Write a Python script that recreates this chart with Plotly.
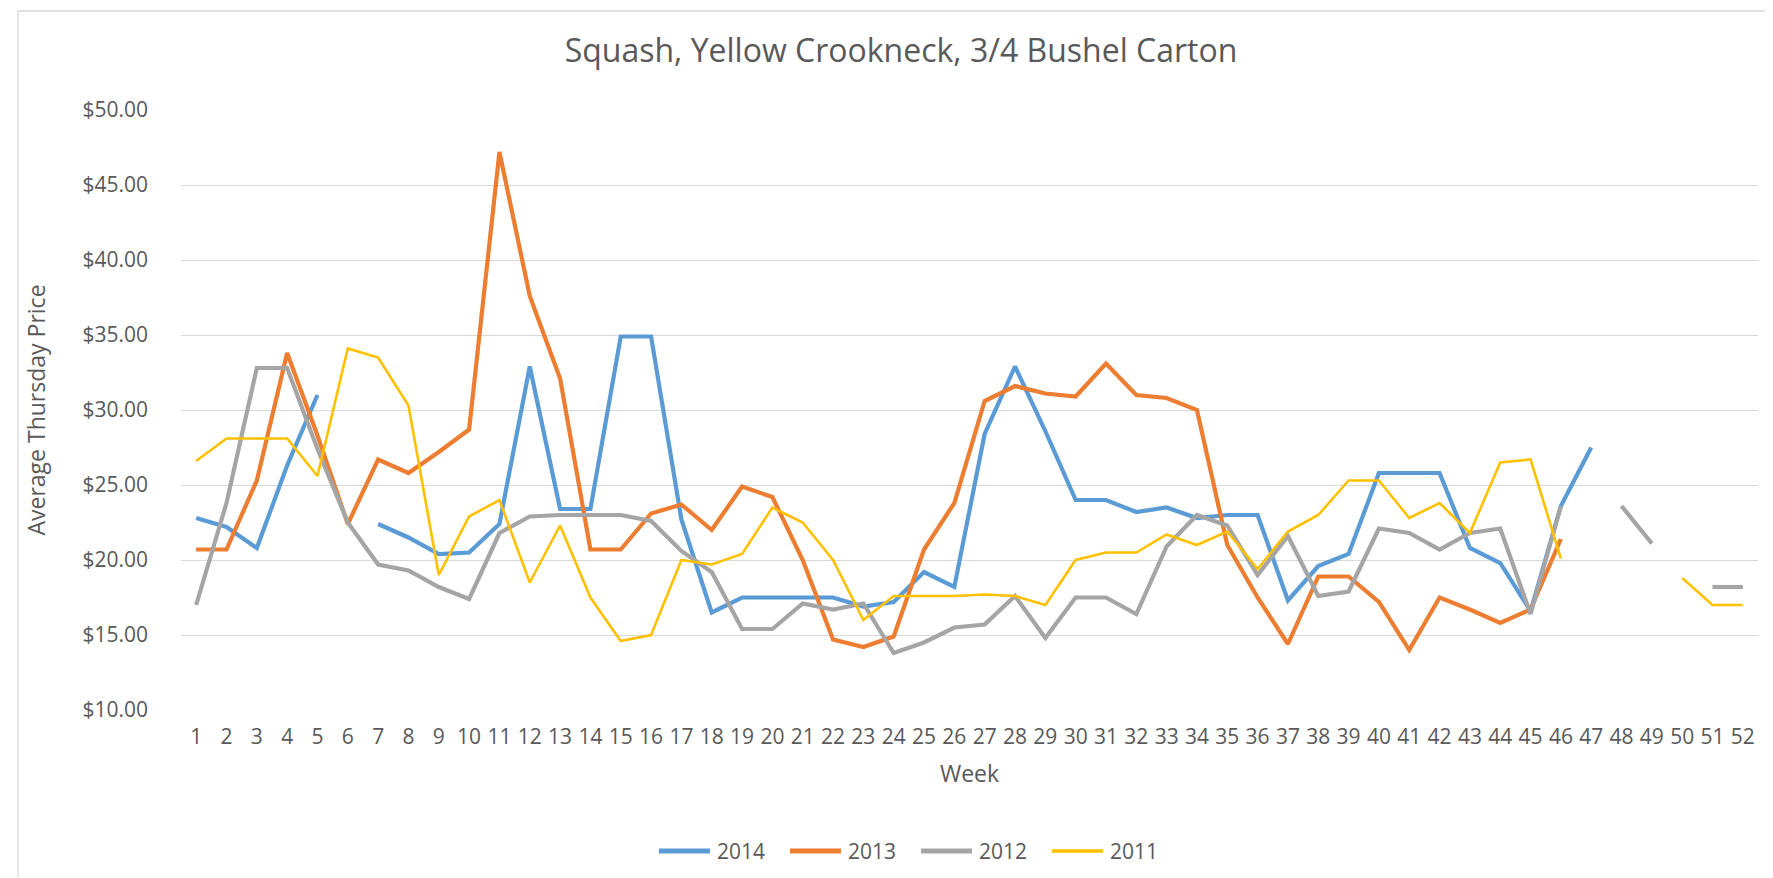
import plotly.graph_objects as go

weeks = list(range(1, 53))
N = None

y2014 = [22.8, 22.2, 20.8, 26.3, 31.0, N, 22.4, 21.5, 20.4, 20.5,
         22.4, 32.9, 23.4, 23.4, 34.9, 34.9, 22.7, 16.5, 17.5, 17.5,
         17.5, 17.5, 16.9, 17.2, 19.2, 18.2, 28.4, 32.9, 28.6, 24.0,
         24.0, 23.2, 23.5, 22.8, 23.0, 23.0, 17.3, 19.6, 20.4, 25.8,
         25.8, 25.8, 20.8, 19.8, 16.6, 23.6, 27.5, N, N, N, N, N]

y2013 = [20.7, 20.7, 25.3, 33.8, 28.3, 22.4, 26.7, 25.8, 27.2, 28.7,
         47.2, 37.6, 32.1, 20.7, 20.7, 23.1, 23.7, 22.0, 24.9, 24.2,
         20.0, 14.7, 14.2, 14.9, 20.7, 23.8, 30.6, 31.6, 31.1, 30.9,
         33.1, 31.0, 30.8, 30.0, 21.0, 17.5, 14.4, 18.9, 18.9, 17.2,
         14.0, 17.5, 16.7, 15.8, 16.7, 21.4, N, N, N, N, N, N]

y2012 = [17.0, 23.8, 32.8, 32.8, 27.4, 22.5, 19.7, 19.3, 18.2, 17.4,
         21.8, 22.9, 23.0, 23.0, 23.0, 22.6, 20.6, 19.2, 15.4, 15.4,
         17.1, 16.7, 17.1, 13.8, 14.5, 15.5, 15.7, 17.6, 14.8, 17.5,
         17.5, 16.4, 20.9, 23.0, 22.3, 19.0, 21.6, 17.6, 17.9, 22.1,
         21.8, 20.7, 21.8, 22.1, 16.4, 23.6, N, 23.6, 21.1, N, 18.2, 18.2]

y2011 = [26.6, 28.1, 28.1, 28.1, 25.6, 34.1, 33.5, 30.3, 19.0, 22.9,
         24.0, 18.5, 22.3, 17.5, 14.6, 15.0, 20.0, 19.7, 20.4, 23.5,
         22.5, 20.0, 16.0, 17.6, 17.6, 17.6, 17.7, 17.6, 17.0, 20.0,
         20.5, 20.5, 21.7, 21.0, 21.9, 19.4, 21.9, 23.0, 25.3, 25.3,
         22.8, 23.8, 21.8, 26.5, 26.7, 20.1, N, N, N, 18.8, 17.0, 17.0]

series_names = ["2014", "2013", "2012", "2011"]
series_values = [y2014, y2013, y2012, y2011]
series_colors = ["#5B9BD5", "#ED7D31", "#A5A5A5", "#FFC000"]
series_widths = [4.2, 4.2, 4.2, 2.6]

FONT = "'Open Sans', sans-serif"
TXT = "#595959"

# plot-area geometry (pixels) used to place the hand-drawn legend
L, R, T, B = 173, 23, 102, 176
W, H = 1773, 878
PW, PH = W - L - R, H - T - B


def px_x(x):
    return (x - L) / PW


def px_y(y):
    return (H - B - y) / PH


fig = go.Figure()
for name, vals, color, w in zip(series_names, series_values, series_colors, series_widths):
    fig.add_trace(go.Scatter(
        x=weeks, y=vals, name=name, mode="lines",
        line=dict(color=color, width=w),
        connectgaps=False, showlegend=False,
    ))

shapes = [dict(type="rect", xref="paper", yref="paper",
               x0=px_x(10), x1=px_x(1770), y0=px_y(900), y1=px_y(3),
               line=dict(color="#D9D9D9", width=1.3), fillcolor="rgba(0,0,0,0)",
               layer="below")]
annotations = []
leg_y = 843
leg_x0 = 649
for i, (name, color, w) in enumerate(zip(series_names, series_colors, series_widths)):
    sx = leg_x0 + i * 131
    shapes.append(dict(type="line", xref="paper", yref="paper",
                       x0=px_x(sx + 2), x1=px_x(sx + 53), y0=px_y(leg_y), y1=px_y(leg_y),
                       line=dict(color=color, width=w + 1)))
    annotations.append(dict(text=name, xref="paper", yref="paper",
                            x=px_x(sx + 58), y=px_y(leg_y), xanchor="left", yanchor="middle",
                            showarrow=False, font=dict(size=21, color=TXT, family=FONT)))

fig.update_layout(
    width=W, height=H,
    paper_bgcolor="white", plot_bgcolor="white",
    margin=dict(l=L, r=R, t=T, b=B),
    font=dict(family=FONT, color=TXT, size=21),
    title=dict(text="Squash, Yellow Crookneck, 3/4 Bushel Carton",
               x=893 / W, xanchor="center", y=1 - 43 / H, yanchor="middle",
               font=dict(size=32, color=TXT, family=FONT)),
    showlegend=False,
    xaxis=dict(
        range=[0.5, 52.5], tickmode="array", tickvals=weeks,
        ticktext=[str(w) for w in weeks], showgrid=False, zeroline=False,
        showline=False, ticks="", tickfont=dict(size=21, color=TXT),
        ticklabelstandoff=12,
        title=dict(text="Week", font=dict(size=23, color=TXT), standoff=16),
    ),
    yaxis=dict(
        range=[10, 50], dtick=5, tickprefix="$", tickformat=".2f",
        showgrid=True, gridcolor="#D9D9D9", gridwidth=1.3, zeroline=False,
        showline=False, ticks="", tickfont=dict(size=21, color=TXT),
        ticklabelstandoff=32,
        title=dict(text="Average Thursday Price", font=dict(size=23, color=TXT), standoff=30),
    ),
    shapes=shapes,
    annotations=annotations,
)

fig.write_html("out.html")
